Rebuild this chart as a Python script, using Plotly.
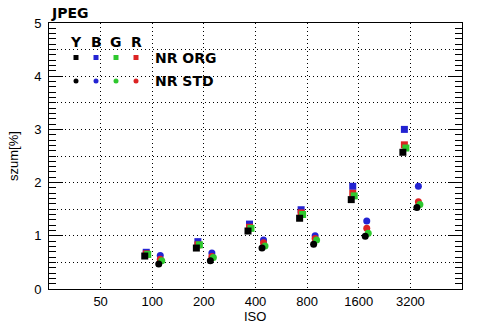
import plotly.graph_objects as go
import numpy as np

# ---------------- data ----------------
iso = [100, 200, 400, 800, 1600, 3200]
tick_iso = [50, 100, 200, 400, 800, 1600, 3200]
tick_text = ["50", "100", "200", "400", "800", "1600", "3200"]

# NR ORG (squares)
org_Y = [0.62, 0.77, 1.09, 1.33, 1.68, 2.57]
org_B = [0.69, 0.89, 1.22, 1.49, 1.93, 3.00]
org_G = [0.65, 0.83, 1.14, 1.40, 1.75, 2.65]
org_R = [0.66, 0.83, 1.16, 1.43, 1.80, 2.71]

# NR STD (circles)
std_Y = [0.47, 0.53, 0.77, 0.84, 0.99, 1.53]
std_B = [0.63, 0.675, 0.92, 1.00, 1.28, 1.93]
std_G = [0.53, 0.59, 0.81, 0.92, 1.05, 1.59]
std_R = [0.56, 0.61, 0.87, 0.95, 1.14, 1.64]

channels = ["Y", "B", "G", "R"]
series_names = ["NR ORG", "NR STD"]

# ---------------- style ----------------
W, H = 494, 331
ML, MR, MT, MB = 49, 32, 23, 42
PW, PH = W - ML - MR, H - MT - MB
OCT_PX = PW / 8.0  # pixels per doubling of ISO

colors = {"Y": "#000000", "B": "#2323d2", "G": "#2ec82e", "R": "#dc2323"}
chan_dx = {"Y": -1.5, "B": 0.0, "G": 1.5, "R": 0.0}   # px
group_dx = {"NR ORG": -6.0, "NR STD": 8.0}           # px
symbols = {"NR ORG": "square", "NR STD": "circle"}
sizes = {"NR ORG": 7, "NR STD": 7}
draw_order = ["B", "R", "G", "Y"]

data = {
    "NR ORG": {"Y": org_Y, "B": org_B, "G": org_G, "R": org_R},
    "NR STD": {"Y": std_Y, "B": std_B, "G": std_G, "R": std_R},
}

fig = go.Figure()
for s in series_names:
    for c in draw_order:
        shift = 2 ** ((group_dx[s] + chan_dx[c]) / OCT_PX)
        fig.add_trace(go.Scatter(
            x=[v * shift for v in iso], y=data[s][c], mode="markers",
            marker=dict(symbol=symbols[s], size=sizes[s], color=colors[c],
                        line=dict(width=0)),
            name=f"{s} {c}", showlegend=False, hoverinfo="skip"))

# empty trace to anchor grid axis
fig.add_trace(go.Scatter(x=[], y=[], xaxis="x", yaxis="y2", showlegend=False))


def px(xp):
    return (xp - ML) / PW


def py(yp):
    return (H - MB - yp) / PH


tick_font = dict(family="Liberation Sans, Arial, sans-serif", size=13, color="black")
bold_font = dict(family="DejaVu Sans, Verdana, sans-serif", size=14, color="black")

# legend (drawn)
leg_x = [76, 96, 116, 136]
for c, xp in zip(channels, leg_x):
    fig.add_annotation(x=px(xp), y=py(42), xref="paper", yref="paper", text=f"<b>{c}</b>",
                       showarrow=False, font=bold_font, xanchor="center", yanchor="middle")
for s, yp in zip(series_names, [57.5, 81]):
    for c, xp in zip(channels, leg_x):
        fig.add_shape(type="rect" if s == "NR ORG" else "circle",
                      xref="paper", yref="paper", xsizemode="pixel", ysizemode="pixel",
                      xanchor=px(xp), yanchor=py(yp), x0=-2.5, x1=2.5, y0=-2.5, y1=2.5,
                      fillcolor=colors[c], line=dict(width=0))
    fig.add_annotation(x=px(153), y=py(yp), xref="paper", yref="paper", text=f"<b>{s}</b>",
                       showarrow=False, font=bold_font, xanchor="left", yanchor="middle")

fig.add_annotation(x=px(49), y=py(13), xref="paper", yref="paper", text="<b>JPEG</b>",
                   showarrow=False, font=bold_font, xanchor="left", yanchor="middle")
fig.add_annotation(x=px(13), y=py(156), xref="paper", yref="paper", text="szum[%]",
                   textangle=-90, showarrow=False, font=tick_font,
                   xanchor="center", yanchor="middle")
fig.add_annotation(x=px(255), y=py(317), xref="paper", yref="paper", text="ISO",
                   showarrow=False, font=tick_font, xanchor="center", yanchor="middle")

grid_dash = "1px,3px"
fig.update_layout(
    width=W, height=H, margin=dict(l=ML, r=MR, t=MT, b=MB),
    paper_bgcolor="white", plot_bgcolor="white",
    xaxis=dict(type="log", range=[np.log10(25), np.log10(6400)],
               tickmode="array", tickvals=tick_iso, ticktext=tick_text,
               showgrid=True, gridcolor="black", griddash=grid_dash, gridwidth=1,
               showline=True, linecolor="black", linewidth=1, mirror=True,
               ticks="", tickfont=tick_font, zeroline=False),
    yaxis=dict(range=[0, 5], tickmode="array", tickvals=[0, 1, 2, 3, 4, 5],
               ticks="inside", ticklen=14, tickcolor="black", tickwidth=1,
               mirror="allticks", showline=True, linecolor="black", linewidth=1,
               showgrid=False, zeroline=False, tickfont=tick_font,
               ticklabelstandoff=4,
               minor=dict(dtick=0.1, ticks="inside", ticklen=7, tickcolor="black",
                          showgrid=False)),
    yaxis2=dict(range=[0, 5], overlaying="y", tickmode="array",
                tickvals=[0.5, 1, 1.5, 2, 2.5, 3, 3.5, 4, 4.5],
                showgrid=True, gridcolor="black", griddash=grid_dash, gridwidth=1,
                showticklabels=False, ticks="", showline=False, zeroline=False),
    showlegend=False,
)

fig.write_html("out.html", config={"displayModeBar": False},
               post_script="document.body.style.margin='0';"
                           "document.body.style.padding='0';")
